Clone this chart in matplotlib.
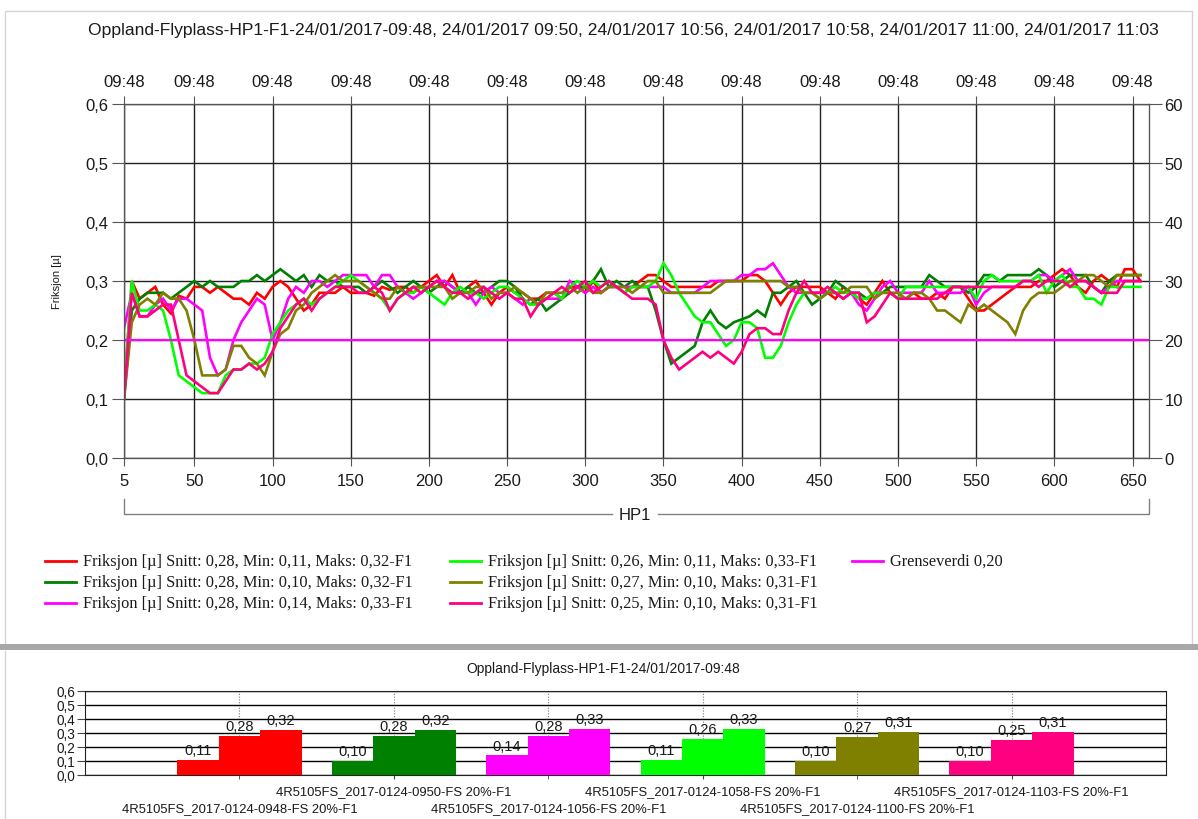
import numpy as np
import matplotlib
matplotlib.use('Agg')
import matplotlib.pyplot as plt
from matplotlib.lines import Line2D
from matplotlib.patches import Rectangle

W, H = 1198, 820

# friction readings every 5 m along HP1 (x = 5 .. 655)
pos = np.arange(5, 656, 5)

red = [0.11, 0.30, 0.27, 0.28, 0.29, 0.26, 0.245, 0.275, 0.27, 0.29,
       0.29, 0.28, 0.29, 0.28, 0.27, 0.27, 0.26, 0.28, 0.27, 0.29,
       0.30, 0.29, 0.27, 0.25, 0.26, 0.28, 0.28, 0.28, 0.29, 0.28,
       0.28, 0.28, 0.275, 0.29, 0.285, 0.29, 0.29, 0.28, 0.29, 0.30,
       0.31, 0.29, 0.31, 0.28, 0.29, 0.30, 0.28, 0.26, 0.28, 0.29,
       0.28, 0.28, 0.27, 0.27, 0.28, 0.28, 0.27, 0.29, 0.29, 0.28,
       0.30, 0.28, 0.29, 0.29, 0.28, 0.29, 0.30, 0.31, 0.31, 0.30,
       0.29, 0.29, 0.29, 0.29, 0.29, 0.29, 0.30, 0.30, 0.30, 0.30,
       0.31, 0.31, 0.30, 0.28, 0.26, 0.28, 0.29, 0.29, 0.29, 0.29,
       0.28, 0.27, 0.29, 0.28, 0.27, 0.26, 0.28, 0.30, 0.28, 0.27,
       0.27, 0.28, 0.27, 0.27, 0.28, 0.27, 0.29, 0.29, 0.27, 0.25,
       0.25, 0.26, 0.27, 0.28, 0.29, 0.29, 0.29, 0.30, 0.30, 0.31,
       0.32, 0.31, 0.29, 0.28, 0.30, 0.31, 0.30, 0.29, 0.32, 0.32,
       0.30]

dkgreen = [0.10, 0.25, 0.27, 0.28, 0.28, 0.28, 0.27, 0.28, 0.29, 0.30,
           0.29, 0.30, 0.29, 0.29, 0.29, 0.30, 0.30, 0.31, 0.30, 0.31,
           0.32, 0.31, 0.30, 0.31, 0.29, 0.31, 0.30, 0.30, 0.29, 0.29,
           0.29, 0.28, 0.29, 0.30, 0.29, 0.28, 0.29, 0.30, 0.29, 0.28,
           0.29, 0.30, 0.29, 0.28, 0.29, 0.28, 0.28, 0.29, 0.30, 0.30,
           0.29, 0.27, 0.26, 0.27, 0.25, 0.26, 0.27, 0.28, 0.29, 0.29,
           0.30, 0.32, 0.29, 0.30, 0.29, 0.30, 0.29, 0.29, 0.25, 0.20,
           0.16, 0.17, 0.18, 0.19, 0.23, 0.25, 0.23, 0.22, 0.23, 0.235,
           0.24, 0.25, 0.24, 0.28, 0.28, 0.29, 0.30, 0.28, 0.26, 0.27,
           0.28, 0.30, 0.29, 0.28, 0.28, 0.27, 0.28, 0.28, 0.29, 0.29,
           0.29, 0.29, 0.29, 0.31, 0.30, 0.29, 0.29, 0.29, 0.28, 0.29,
           0.31, 0.31, 0.30, 0.31, 0.31, 0.31, 0.31, 0.32, 0.31, 0.29,
           0.30, 0.31, 0.31, 0.31, 0.29, 0.28, 0.30, 0.31, 0.31, 0.31,
           0.31]

magenta = [0.22, 0.28, 0.24, 0.24, 0.26, 0.27, 0.25, 0.27, 0.27, 0.26,
           0.25, 0.17, 0.14, 0.15, 0.20, 0.23, 0.25, 0.27, 0.26, 0.20,
           0.23, 0.27, 0.29, 0.28, 0.30, 0.30, 0.29, 0.30, 0.31, 0.31,
           0.31, 0.31, 0.29, 0.31, 0.31, 0.29, 0.28, 0.27, 0.28, 0.29,
           0.30, 0.30, 0.29, 0.28, 0.28, 0.26, 0.28, 0.29, 0.28, 0.28,
           0.27, 0.26, 0.27, 0.26, 0.27, 0.27, 0.27, 0.30, 0.29, 0.28,
           0.29, 0.28, 0.29, 0.29, 0.29, 0.29, 0.29, 0.29, 0.29, 0.29,
           0.28, 0.28, 0.28, 0.28, 0.29, 0.30, 0.30, 0.30, 0.30, 0.31,
           0.31, 0.32, 0.32, 0.33, 0.31, 0.29, 0.28, 0.28, 0.28, 0.28,
           0.28, 0.28, 0.27, 0.28, 0.26, 0.25, 0.27, 0.29, 0.30, 0.28,
           0.28, 0.28, 0.28, 0.30, 0.28, 0.28, 0.28, 0.28, 0.29, 0.26,
           0.28, 0.29, 0.29, 0.29, 0.29, 0.30, 0.30, 0.31, 0.31, 0.30,
           0.31, 0.32, 0.30, 0.30, 0.29, 0.28, 0.29, 0.30, 0.30, 0.30,
           0.30]

lime = [0.11, 0.30, 0.25, 0.25, 0.26, 0.25, 0.20, 0.14, 0.13, 0.12,
        0.11, 0.11, 0.11, 0.14, 0.15, 0.15, 0.16, 0.16, 0.17, 0.21,
        0.23, 0.25, 0.26, 0.27, 0.26, 0.27, 0.28, 0.29, 0.30, 0.31,
        0.30, 0.29, 0.28, 0.27, 0.25, 0.27, 0.28, 0.28, 0.29, 0.28,
        0.27, 0.26, 0.28, 0.29, 0.28, 0.28, 0.27, 0.28, 0.29, 0.29,
        0.28, 0.27, 0.26, 0.26, 0.27, 0.28, 0.27, 0.29, 0.30, 0.29,
        0.30, 0.29, 0.30, 0.29, 0.28, 0.29, 0.29, 0.29, 0.30, 0.33,
        0.31, 0.28, 0.26, 0.24, 0.23, 0.23, 0.21, 0.19, 0.20, 0.23,
        0.23, 0.22, 0.17, 0.17, 0.19, 0.23, 0.26, 0.28, 0.28, 0.27,
        0.28, 0.29, 0.28, 0.28, 0.27, 0.27, 0.28, 0.28, 0.28, 0.27,
        0.29, 0.29, 0.29, 0.29, 0.29, 0.29, 0.29, 0.29, 0.29, 0.27,
        0.30, 0.31, 0.30, 0.30, 0.30, 0.30, 0.30, 0.31, 0.28, 0.30,
        0.31, 0.29, 0.29, 0.27, 0.27, 0.26, 0.29, 0.29, 0.29, 0.29,
        0.29]

olive = [0.10, 0.23, 0.26, 0.27, 0.26, 0.28, 0.27, 0.27, 0.25, 0.20,
         0.14, 0.14, 0.14, 0.15, 0.19, 0.19, 0.17, 0.16, 0.14, 0.18,
         0.21, 0.22, 0.25, 0.26, 0.28, 0.29, 0.30, 0.31, 0.30, 0.30,
         0.30, 0.29, 0.28, 0.27, 0.27, 0.29, 0.28, 0.29, 0.29, 0.29,
         0.29, 0.29, 0.27, 0.28, 0.28, 0.29, 0.29, 0.27, 0.28, 0.28,
         0.29, 0.28, 0.27, 0.26, 0.28, 0.28, 0.28, 0.29, 0.28, 0.29,
         0.28, 0.28, 0.29, 0.29, 0.29, 0.28, 0.29, 0.30, 0.30, 0.28,
         0.28, 0.28, 0.28, 0.28, 0.28, 0.28, 0.29, 0.30, 0.30, 0.30,
         0.30, 0.30, 0.30, 0.30, 0.30, 0.29, 0.29, 0.28, 0.28, 0.27,
         0.28, 0.28, 0.28, 0.29, 0.29, 0.29, 0.27, 0.28, 0.28, 0.28,
         0.27, 0.28, 0.28, 0.27, 0.25, 0.25, 0.24, 0.23, 0.26, 0.25,
         0.26, 0.25, 0.24, 0.23, 0.21, 0.25, 0.27, 0.28, 0.28, 0.28,
         0.29, 0.30, 0.30, 0.31, 0.31, 0.30, 0.29, 0.31, 0.31, 0.31,
         0.31]

dpink = [0.10, 0.28, 0.24, 0.24, 0.25, 0.26, 0.26, 0.20, 0.14, 0.13,
         0.12, 0.11, 0.11, 0.13, 0.15, 0.15, 0.16, 0.15, 0.16, 0.18,
         0.22, 0.24, 0.26, 0.27, 0.25, 0.27, 0.28, 0.29, 0.29, 0.29,
         0.28, 0.28, 0.29, 0.28, 0.25, 0.27, 0.28, 0.29, 0.28, 0.29,
         0.30, 0.29, 0.28, 0.28, 0.27, 0.28, 0.29, 0.28, 0.27, 0.28,
         0.27, 0.27, 0.24, 0.26, 0.27, 0.28, 0.29, 0.28, 0.29, 0.30,
         0.28, 0.29, 0.30, 0.29, 0.28, 0.27, 0.27, 0.27, 0.26, 0.20,
         0.17, 0.15, 0.16, 0.17, 0.18, 0.17, 0.18, 0.17, 0.16, 0.18,
         0.21, 0.22, 0.22, 0.21, 0.21, 0.25, 0.28, 0.30, 0.28, 0.28,
         0.29, 0.28, 0.27, 0.28, 0.28, 0.23, 0.24, 0.26, 0.28, 0.27,
         0.27, 0.27, 0.27, 0.27, 0.27, 0.28, 0.29, 0.29, 0.29, 0.29,
         0.29, 0.29, 0.29, 0.29, 0.29, 0.30, 0.30, 0.29, 0.30, 0.30,
         0.30, 0.29, 0.30, 0.30, 0.29, 0.28, 0.28, 0.28, 0.30, 0.30,
         0.30]

series = [red, dkgreen, magenta, lime, olive, dpink]
colors = ['#ff0000', '#008000', '#ff00ff', '#00ff00', '#808000', '#ff0080']
limit = 0.20

runs = ['4R5105FS_2017-0124-0948-FS 20%-F1', '4R5105FS_2017-0124-0950-FS 20%-F1',
        '4R5105FS_2017-0124-1056-FS 20%-F1', '4R5105FS_2017-0124-1058-FS 20%-F1',
        '4R5105FS_2017-0124-1100-FS 20%-F1', '4R5105FS_2017-0124-1103-FS 20%-F1']
min_vals = [0.11, 0.10, 0.14, 0.11, 0.10, 0.10]
avg_vals = [0.28, 0.28, 0.28, 0.26, 0.27, 0.25]
max_vals = [0.32, 0.32, 0.33, 0.33, 0.31, 0.31]

x_ticks = [5, 50, 100, 150, 200, 250, 300, 350, 400, 450, 500, 550, 600, 650]
y_ticks = [0.0, 0.1, 0.2, 0.3, 0.4, 0.5, 0.6]
title = ('Oppland-Flyplass-HP1-F1-24/01/2017-09:48, 24/01/2017 09:50, 24/01/2017 10:56, '
         '24/01/2017 10:58, 24/01/2017 11:00, 24/01/2017 11:03')
title2 = 'Oppland-Flyplass-HP1-F1-24/01/2017-09:48'


def comma(v, fmt='{:.2f}'):
    return fmt.format(v).replace('.', ',')


def fx(px):
    return px / W


def fy(py):
    return 1 - py / H


plt.rcParams['font.family'] = ['Liberation Sans', 'DejaVu Sans']
txt = '#1a1a1a'

fig = plt.figure(figsize=(W / 100, H / 100), dpi=100)
fig.patch.set_facecolor('white')

# panel frames
fig.add_artist(Rectangle((fx(5), fy(646)), fx(1187), (646 - 12) / H, transform=fig.transFigure,
                         fill=False, ec='#d4d4d4', lw=1))
fig.add_artist(Rectangle((0, fy(651)), 1, 6 / H, transform=fig.transFigure,
                         fc='#a8a8a8', ec='none'))
fig.add_artist(Line2D([fx(5), fx(5)], [fy(652), 0], transform=fig.transFigure, color='#d4d4d4', lw=1))

# ---- main line chart ----
ax = fig.add_axes([fx(124), fy(459), (1149 - 124) / W, (459 - 105) / H])
for vals, c in zip(series, colors):
    ax.plot(pos, vals, color=c, lw=1.9, solid_joinstyle='miter', zorder=3)
ax.axhline(limit, color='#ff00ff', lw=1.6, zorder=4)

ax.set_xlim(5, 660.5)
ax.set_ylim(0, 0.6)
ax.set_xticks(x_ticks)
ax.set_yticks(y_ticks)
ax.set_yticklabels([comma(v, '{:.1f}') for v in y_ticks])
ax.grid(True, color='#222222', lw=1.0)
ax.set_axisbelow(True)
for s in ax.spines.values():
    s.set_color('#555555')
ax.tick_params(axis='x', direction='out', length=6, pad=5, labelsize=12, colors='#555555',
               labelcolor=txt)
ax.tick_params(axis='y', direction='out', length=9, pad=2, labelsize=12, colors='#555555',
               labelcolor=txt)
ax.set_ylabel('Friksjon [µ]', fontsize=8, color=txt, labelpad=17)

ax_top = ax.twiny()
ax_top.set_xlim(ax.get_xlim())
ax_top.set_xticks(x_ticks)
ax_top.set_xticklabels(['09:48'] * len(x_ticks))
ax_top.tick_params(axis='x', direction='out', length=6, pad=5, labelsize=12, colors='#555555',
                   labelcolor=txt)

ax_r = ax.twinx()
ax_r.set_ylim(0, 60)
ax_r.set_yticks([v * 100 for v in y_ticks])
ax_r.set_yticklabels([str(int(round(v * 100))) for v in y_ticks])
ax_r.tick_params(axis='y', direction='out', length=9, pad=2, labelsize=12, colors='#555555',
                 labelcolor=txt)
for a in (ax_top, ax_r):
    for s in a.spines.values():
        s.set_color('#555555')

fig.text(fx(623), fy(31), title, ha='center', va='center', fontsize=12.6, color=txt)

# HP1 bracket under the x axis
br = '#808080'
fig.add_artist(Line2D([fx(124), fx(124), fx(612)], [fy(500), fy(515), fy(515)],
                      transform=fig.transFigure, color=br, lw=1))
fig.add_artist(Line2D([fx(658), fx(1149), fx(1149)], [fy(515), fy(515), fy(500)],
                      transform=fig.transFigure, color=br, lw=1))
fig.text(fx(635), fy(515), 'HP1', ha='center', va='center', fontsize=12, color=txt)

# legend, three columns
labels = ['Friksjon [µ] Snitt: {}, Min: {}, Maks: {}-F1'.format(comma(a), comma(b), comma(c))
          for a, b, c in zip(avg_vals, min_vals, max_vals)]
labels.append('Grenseverdi ' + comma(limit))
leg_colors = colors + ['#ff00ff']
col_x = [45, 450, 852]
row_y = [562, 583, 604]
for i, (lab, c) in enumerate(zip(labels, leg_colors)):
    cx = col_x[i // 3]
    ry = row_y[i % 3]
    fig.add_artist(Line2D([fx(cx), fx(cx + 31)], [fy(ry), fy(ry)], transform=fig.transFigure,
                          color=c, lw=2))
    fig.text(fx(cx + 38), fy(ry), lab, ha='left', va='center', fontsize=11.8,
             family=['Liberation Serif', 'DejaVu Serif'], color=txt)

# ---- bottom bar chart ----
bx = fig.add_axes([fx(85), fy(776), (1166 - 85) / W, (776 - 692) / H])
cat = np.arange(1, len(runs) + 1)
bw = 0.268
for k, (c, mn, av, mx) in enumerate(zip(colors, min_vals, avg_vals, max_vals)):
    for off, v in zip((-bw, 0, bw), (mn, av, mx)):
        bx.bar(cat[k] + off, v, width=bw, color=c, zorder=3)
        bx.annotate(comma(v), (cat[k] + off, v), xytext=(0, 2), textcoords='offset points',
                    ha='center', va='bottom', fontsize=10.5, color=txt, zorder=4)
bx.set_xlim(0, len(runs) + 1)
bx.set_ylim(0, 0.6)
bx.set_yticks(y_ticks)
bx.set_yticklabels([comma(v, '{:.1f}') for v in y_ticks])
bx.yaxis.grid(True, color='black', lw=1)
bx.set_axisbelow(True)
# staggered run names: even runs on the first row, odd runs (minor ticks) one row lower
bx.set_xticks(cat[1::2])
bx.set_xticklabels(runs[1::2])
bx.set_xticks(cat[0::2], minor=True)
bx.set_xticklabels(runs[0::2], minor=True)
bx.xaxis.grid(True, which='both', color='#777777', lw=0.8, ls=(0, (1, 1.5)))
bx.tick_params(axis='x', which='major', length=3, pad=4, labelsize=9.4, labelcolor=txt,
               colors='#444444')
bx.tick_params(axis='x', which='minor', length=3, pad=16.5, labelsize=9.4, labelcolor=txt,
               colors='#444444')
bx.tick_params(axis='y', length=6, pad=1, labelsize=9.8, labelcolor=txt, colors='#444444')
for s in bx.spines.values():
    s.set_color('#222222')
fig.text(fx(603), fy(669), title2, ha='center', va='center', fontsize=10, color=txt)

fig.savefig('out.png', dpi=100)
